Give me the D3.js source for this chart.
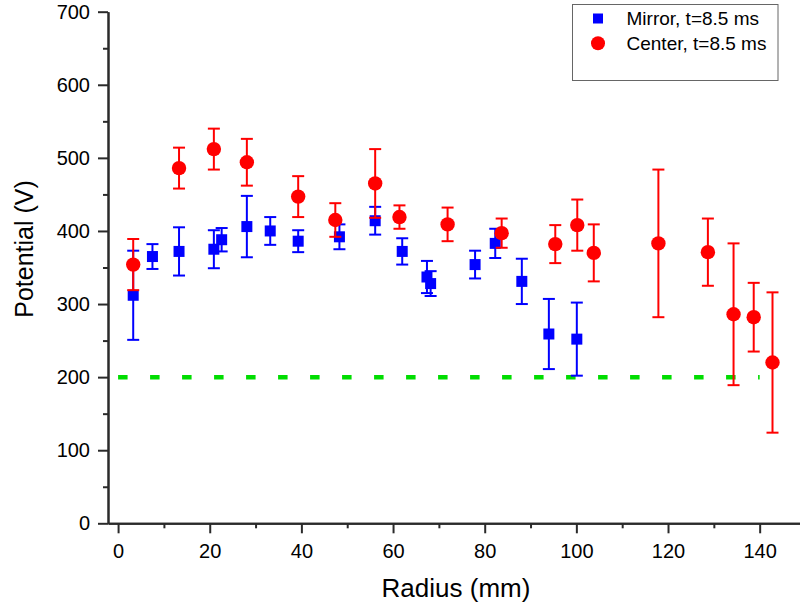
<!DOCTYPE html>
<html>
<head>
<meta charset="utf-8">
<script src="https://cdn.jsdelivr.net/npm/d3@7"></script>
<style>
    body { margin: 0; background: #fff; }
    text { font-family: "Liberation Sans", Arial, Helvetica, sans-serif; fill: #000; }
</style>
</head>
<body>
<div id="_chart"></div>
<script>
// Mirror probe, t=8.5 ms
var mirrorR = [3.3, 7.5, 13.3, 20.9, 22.6, 28.1, 33.2, 39.3, 48.3, 56.1, 62.0, 67.4, 68.2, 77.9, 82.3, 88.1, 94.0, 100.1];
var mirrorV = [312, 365, 372, 375, 388, 406, 400, 386, 392, 414, 372, 337, 328, 354, 383, 331, 259, 252];
var mirrorErr = [61, 17, 33, 26, 16, 42, 19, 15, 17, 19, 18, 22, 17, 19, 20, 31, 48, 50];

// Center probe, t=8.5 ms
var centerR = [3.3, 13.3, 20.9, 28.1, 39.3, 47.4, 56.1, 61.4, 71.9, 83.7, 95.4, 100.2, 103.8, 117.9, 128.7, 134.3, 138.7, 142.8];
var centerV = [354, 486, 512, 494, 447, 415, 465, 419, 409, 397, 382, 408, 370, 383, 371, 286, 282, 220];
var centerErr = [35, 28, 28, 32, 28, 23, 47, 16, 23, 20, 26, 35, 39, 101, 46, 97, 47, 96];

// reference level
var refLevel = 200;
var refRange = [0, 140];

var xTicks = [0, 20, 40, 60, 80, 100, 120, 140];
var xMinor = [10, 30, 50, 70, 90, 110, 130];
var yTicks = [0, 100, 200, 300, 400, 500, 600, 700];
var yMinor = [50, 150, 250, 350, 450, 550, 650];

var legendLabels = ['Mirror, t=8.5 ms', 'Center, t=8.5 ms'];

(function drawChart() {
    var width = 800, height = 609;
    var svg = d3.select('#_chart')
        .append('svg')
        .attr('width', width)
        .attr('height', height);

    var x = d3.scaleLinear().domain([-2.2, 148.8]).range([108, 800]);
    var y = d3.scaleLinear().domain([0, 700]).range([523.3, 11.7]);

    var axisColor = '#2a2a2a';

    // minor ticks first, major on top
    var xMinorAxis = svg.append('g')
        .attr('transform', 'translate(0,' + y(0) + ')')
        .call(d3.axisBottom(x).tickValues(xMinor).tickSize(5).tickSizeOuter(0).tickFormat(''));
    var xAxis = svg.append('g')
        .attr('transform', 'translate(0,' + y(0) + ')')
        .call(d3.axisBottom(x).tickValues(xTicks).tickSize(10).tickSizeOuter(0).tickPadding(11));

    var yMinorAxis = svg.append('g')
        .attr('transform', 'translate(' + x.range()[0] + ',0)')
        .call(d3.axisLeft(y).tickValues(yMinor).tickSize(5).tickSizeOuter(0).tickFormat(''));
    var yAxis = svg.append('g')
        .attr('transform', 'translate(' + x.range()[0] + ',0)')
        .call(d3.axisLeft(y).tickValues(yTicks).tickSize(10).tickSizeOuter(0).tickPadding(8));

    [xMinorAxis, xAxis, yMinorAxis, yAxis].forEach(function(g) {
        g.selectAll('path.domain').attr('stroke', axisColor).attr('stroke-width', 2);
        g.selectAll('.tick line').attr('stroke', axisColor).attr('stroke-width', 2);
        g.selectAll('.tick text')
            .attr('fill', '#000')
            .style('font-family', '"Liberation Sans", Arial, sans-serif')
            .style('font-size', '20px');
    });

    // axis titles
    svg.append('text')
        .text('Radius (mm)')
        .attr('x', 456)
        .attr('y', 597)
        .attr('text-anchor', 'middle')
        .style('font-size', '26px');

    svg.append('text')
        .text('Potential (V)')
        .attr('transform', 'translate(33,249) rotate(-90)')
        .attr('text-anchor', 'middle')
        .style('font-size', '25px');

    // green dashed reference line
    svg.append('line')
        .attr('x1', x(refRange[0]))
        .attr('x2', x(refRange[1]))
        .attr('y1', y(refLevel))
        .attr('y2', y(refLevel))
        .attr('stroke', '#00dd00')
        .attr('stroke-width', 4.5)
        .attr('stroke-dasharray', '9.5,22.5');

    var capW = 6;

    function errorBars(rs, vs, es, color) {
        var g = svg.append('g')
            .attr('stroke', color)
            .attr('stroke-width', 2)
            .attr('fill', 'none');
        rs.forEach(function(r, i) {
            var cx = x(r);
            var top = y(vs[i] + es[i]);
            var bot = y(vs[i] - es[i]);
            g.append('line').attr('x1', cx).attr('x2', cx).attr('y1', top).attr('y2', bot);
            g.append('line').attr('x1', cx - capW).attr('x2', cx + capW).attr('y1', top).attr('y2', top);
            g.append('line').attr('x1', cx - capW).attr('x2', cx + capW).attr('y1', bot).attr('y2', bot);
        });
    }

    // mirror series (blue squares)
    errorBars(mirrorR, mirrorV, mirrorErr, '#0000ff');
    svg.append('g')
        .selectAll('rect')
        .data(mirrorR)
        .enter()
        .append('rect')
        .attr('x', function(d) { return x(d) - 5.5; })
        .attr('y', function(d, i) { return y(mirrorV[i]) - 5.5; })
        .attr('width', 11)
        .attr('height', 11)
        .attr('fill', '#0000ff');

    // center series (red circles)
    errorBars(centerR, centerV, centerErr, '#ff0000');
    svg.append('g')
        .selectAll('circle')
        .data(centerR)
        .enter()
        .append('circle')
        .attr('cx', function(d) { return x(d); })
        .attr('cy', function(d, i) { return y(centerV[i]); })
        .attr('r', 7.2)
        .attr('fill', '#ff0000');

    // legend
    var legend = svg.append('g');
    legend.append('rect')
        .attr('x', 572.5)
        .attr('y', 4.5)
        .attr('width', 205.5)
        .attr('height', 76)
        .attr('fill', '#fff')
        .attr('stroke', '#666')
        .attr('stroke-width', 1);

    legend.append('rect')
        .attr('x', 593)
        .attr('y', 13.5)
        .attr('width', 10)
        .attr('height', 10)
        .attr('fill', '#0000ff');
    legend.append('circle')
        .attr('cx', 598)
        .attr('cy', 43.3)
        .attr('r', 7)
        .attr('fill', '#ff0000');

    legend.selectAll('text.lbl')
        .data(legendLabels)
        .enter()
        .append('text')
        .attr('class', 'lbl')
        .text(function(d) { return d; })
        .attr('x', 626.5)
        .attr('y', function(d, i) { return 18.3 + i * 25; })
        .attr('dy', '0.35em')
        .style('font-size', '19px');
})();
</script>
</body>
</html>
